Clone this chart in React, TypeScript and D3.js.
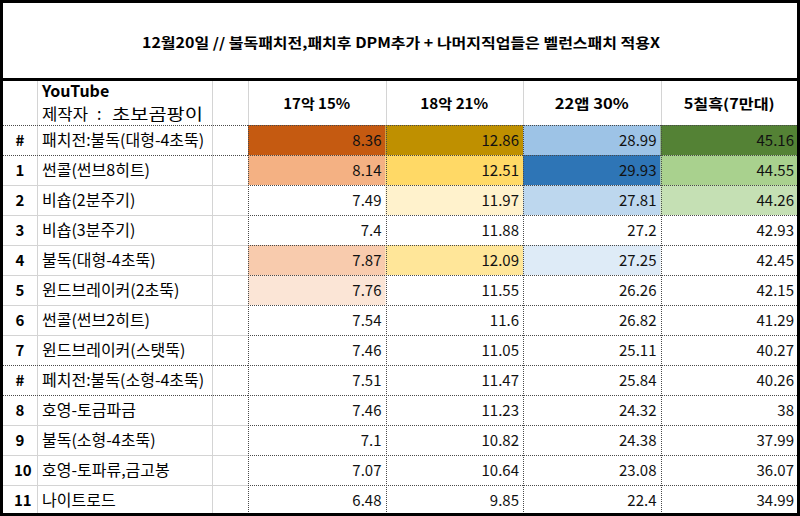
import React from "react";
import * as d3 from "d3";

const title = "12월20일 // 불독패치전,패치후 DPM추가 + 나머지직업들은 벨런스패치 적용X";
const creditTitle = "YouTube";
const creditParts = ["제작자", ":", "초보곰팡이"];
const columns = ["17악 15%", "18악 21%", "22앱 30%", "5칠흑(7만대)"];
const ranks = ["#", "1", "2", "3", "4", "5", "6", "7", "#", "8", "9", "10", "11"];
const names = [
  "패치전:불독(대형-4초뚝)",
  "썬콜(썬브8히트)",
  "비숍(2분주기)",
  "비숍(3분주기)",
  "불독(대형-4초뚝)",
  "윈드브레이커(2초뚝)",
  "썬콜(썬브2히트)",
  "윈드브레이커(스탯뚝)",
  "페치전:불독(소형-4초뚝)",
  "호영-토금파금",
  "불독(소형-4초뚝)",
  "호영-토파류,금고봉",
  "나이트로드",
];
const v17 = [8.36, 8.14, 7.49, 7.4, 7.87, 7.76, 7.54, 7.46, 7.51, 7.46, 7.1, 7.07, 6.48];
const v18 = [12.86, 12.51, 11.97, 11.88, 12.09, 11.55, 11.6, 11.05, 11.47, 11.23, 10.82, 10.64, 9.85];
const v22 = [28.99, 29.93, 27.81, 27.2, 27.25, 26.26, 26.82, 25.11, 25.84, 24.32, 24.38, 23.08, 22.4];
const v5 = [45.16, 44.55, 44.26, 42.93, 42.45, 42.15, 41.29, 40.27, 40.26, 38, 37.99, 36.07, 34.99];
const series = [v17, v18, v22, v5];

// cell highlight styles (row index -> fill), one map per column
const fills: Record<number, string>[] = [
  { 0: "#C55A11", 1: "#F4B183", 4: "#F8CBAD", 5: "#FBE5D6" },
  { 0: "#BF9000", 1: "#FFD966", 4: "#FFE699", 2: "#FFF2CC" },
  { 0: "#9DC3E6", 1: "#2E75B6", 2: "#BDD7EE", 4: "#DEEBF7" },
  { 0: "#548235", 1: "#A9D18E", 2: "#C5E0B4" },
];
const headerLens = [67, 68, 74, 91];
const creditX = [42, 97, 112];
const creditLens = [46, 0, 91];

const W = 800;
const H = 516;
const FONT = "'Noto Sans CJK KR', 'Noto Sans', sans-serif";

export default function App() {
  const rowIdx = d3.range(names.length);
  const y = d3.scaleBand<number>().domain(rowIdx).range([125, 515]);
  const x = d3.scaleBand<number>().domain(d3.range(columns.length)).range([248, 798]);
  const bw = x.bandwidth();
  const bh = y.bandwidth();
  const light = "#D4D4D4";
  const dot = "#4a4a4a";
  const dotRows = new Set([0, 8]);

  const hLines: JSX.Element[] = [];
  for (let i = 0; i <= names.length; i++) {
    const yy = Math.round(125 + i * bh) + 0.5;
    const leftDotted = i === 0 || dotRows.has(i) || dotRows.has(i - 1);
    hLines.push(
      <line key={"hl" + i} x1={3} x2={248} y1={yy} y2={yy}
        stroke={leftDotted ? dot : light} strokeDasharray={leftDotted ? "1,1" : undefined} />
    );
    hLines.push(
      <line key={"hr" + i} x1={248} x2={797} y1={yy} y2={yy} stroke={dot} strokeDasharray="1,1" />
    );
  }

  return (
    <svg width={W} height={H} style={{ position: "fixed", left: 0, top: 0, background: "#fff" }}
      fontFamily={FONT}>
      <rect x={0} y={0} width={W} height={H} fill="#fff" />
      {series.map((vals, c) =>
        vals.map((_, r) =>
          fills[c][r] ? (
            <rect key={`f${c}-${r}`} x={x(c)!} y={y(r)!} width={bw} height={bh} fill={fills[c][r]} />
          ) : null
        )
      )}
      {[37, 212, 248, ...d3.range(1, columns.length).map((c) => x(c)!)].map((xx, i) => (
        <line key={"hv" + i} x1={Math.round(xx) + 0.5} x2={Math.round(xx) + 0.5} y1={81} y2={125}
          stroke={light} />
      ))}
      {[37, 212].map((xx, i) => (
        <line key={"bv" + i} x1={xx + 0.5} x2={xx + 0.5} y1={125} y2={514} stroke={light} />
      ))}
      {d3.range(0, columns.length).map((c) => (
        <line key={"dv" + c} x1={Math.round(x(c)!) + 0.5} x2={Math.round(x(c)!) + 0.5} y1={125} y2={514}
          stroke={dot} strokeDasharray="1,1" />
      ))}
      {hLines}

      <text x={142} y={48} fontSize={14} fontWeight={700} textLength={518} lengthAdjust="spacingAndGlyphs"
        fill="#000">{title}</text>

      <text x={42} y={97} fontSize={16} fontWeight={700} fill="#000">{creditTitle}</text>
      {creditParts.map((p, i) => (
        <text key={"c" + i} x={creditX[i]} y={120} fontSize={16} fill="#000"
          textLength={creditLens[i] || undefined}
          lengthAdjust={creditLens[i] ? "spacingAndGlyphs" : undefined}>{p}</text>
      ))}
      {columns.map((c, i) => {
        const cx = x(i)! + bw / 2;
        return (
          <text key={"h" + i} x={cx - headerLens[i] / 2} y={109} fontSize={14} fontWeight={700}
            textLength={headerLens[i]} lengthAdjust="spacingAndGlyphs" fill="#000">{c}</text>
        );
      })}

      {rowIdx.map((r) => {
        const yy = y(r)! + bh / 2 + 6;
        return (
          <g key={"r" + r}>
            <text x={ranks[r].length > 1 ? 14 : 20} y={yy} fontSize={15} fontWeight={700}
              textAnchor={ranks[r].length > 1 ? "start" : "middle"} fill="#000">{ranks[r]}</text>
            <text x={42} y={yy} fontSize={16} fill="#000">{names[r]}</text>
            {series.map((vals, c) => (
              <text key={"v" + c} x={x(c)! + bw - 4} y={yy} fontSize={15} textAnchor="end" fill="#111">
                {String(vals[r])}
              </text>
            ))}
          </g>
        );
      })}

      <line x1={0} x2={W} y1={79.5} y2={79.5} stroke="#000" strokeWidth={3} />
      <rect x={1.5} y={1.5} width={797} height={513} fill="none" stroke="#000" strokeWidth={3} />
    </svg>
  );
}
